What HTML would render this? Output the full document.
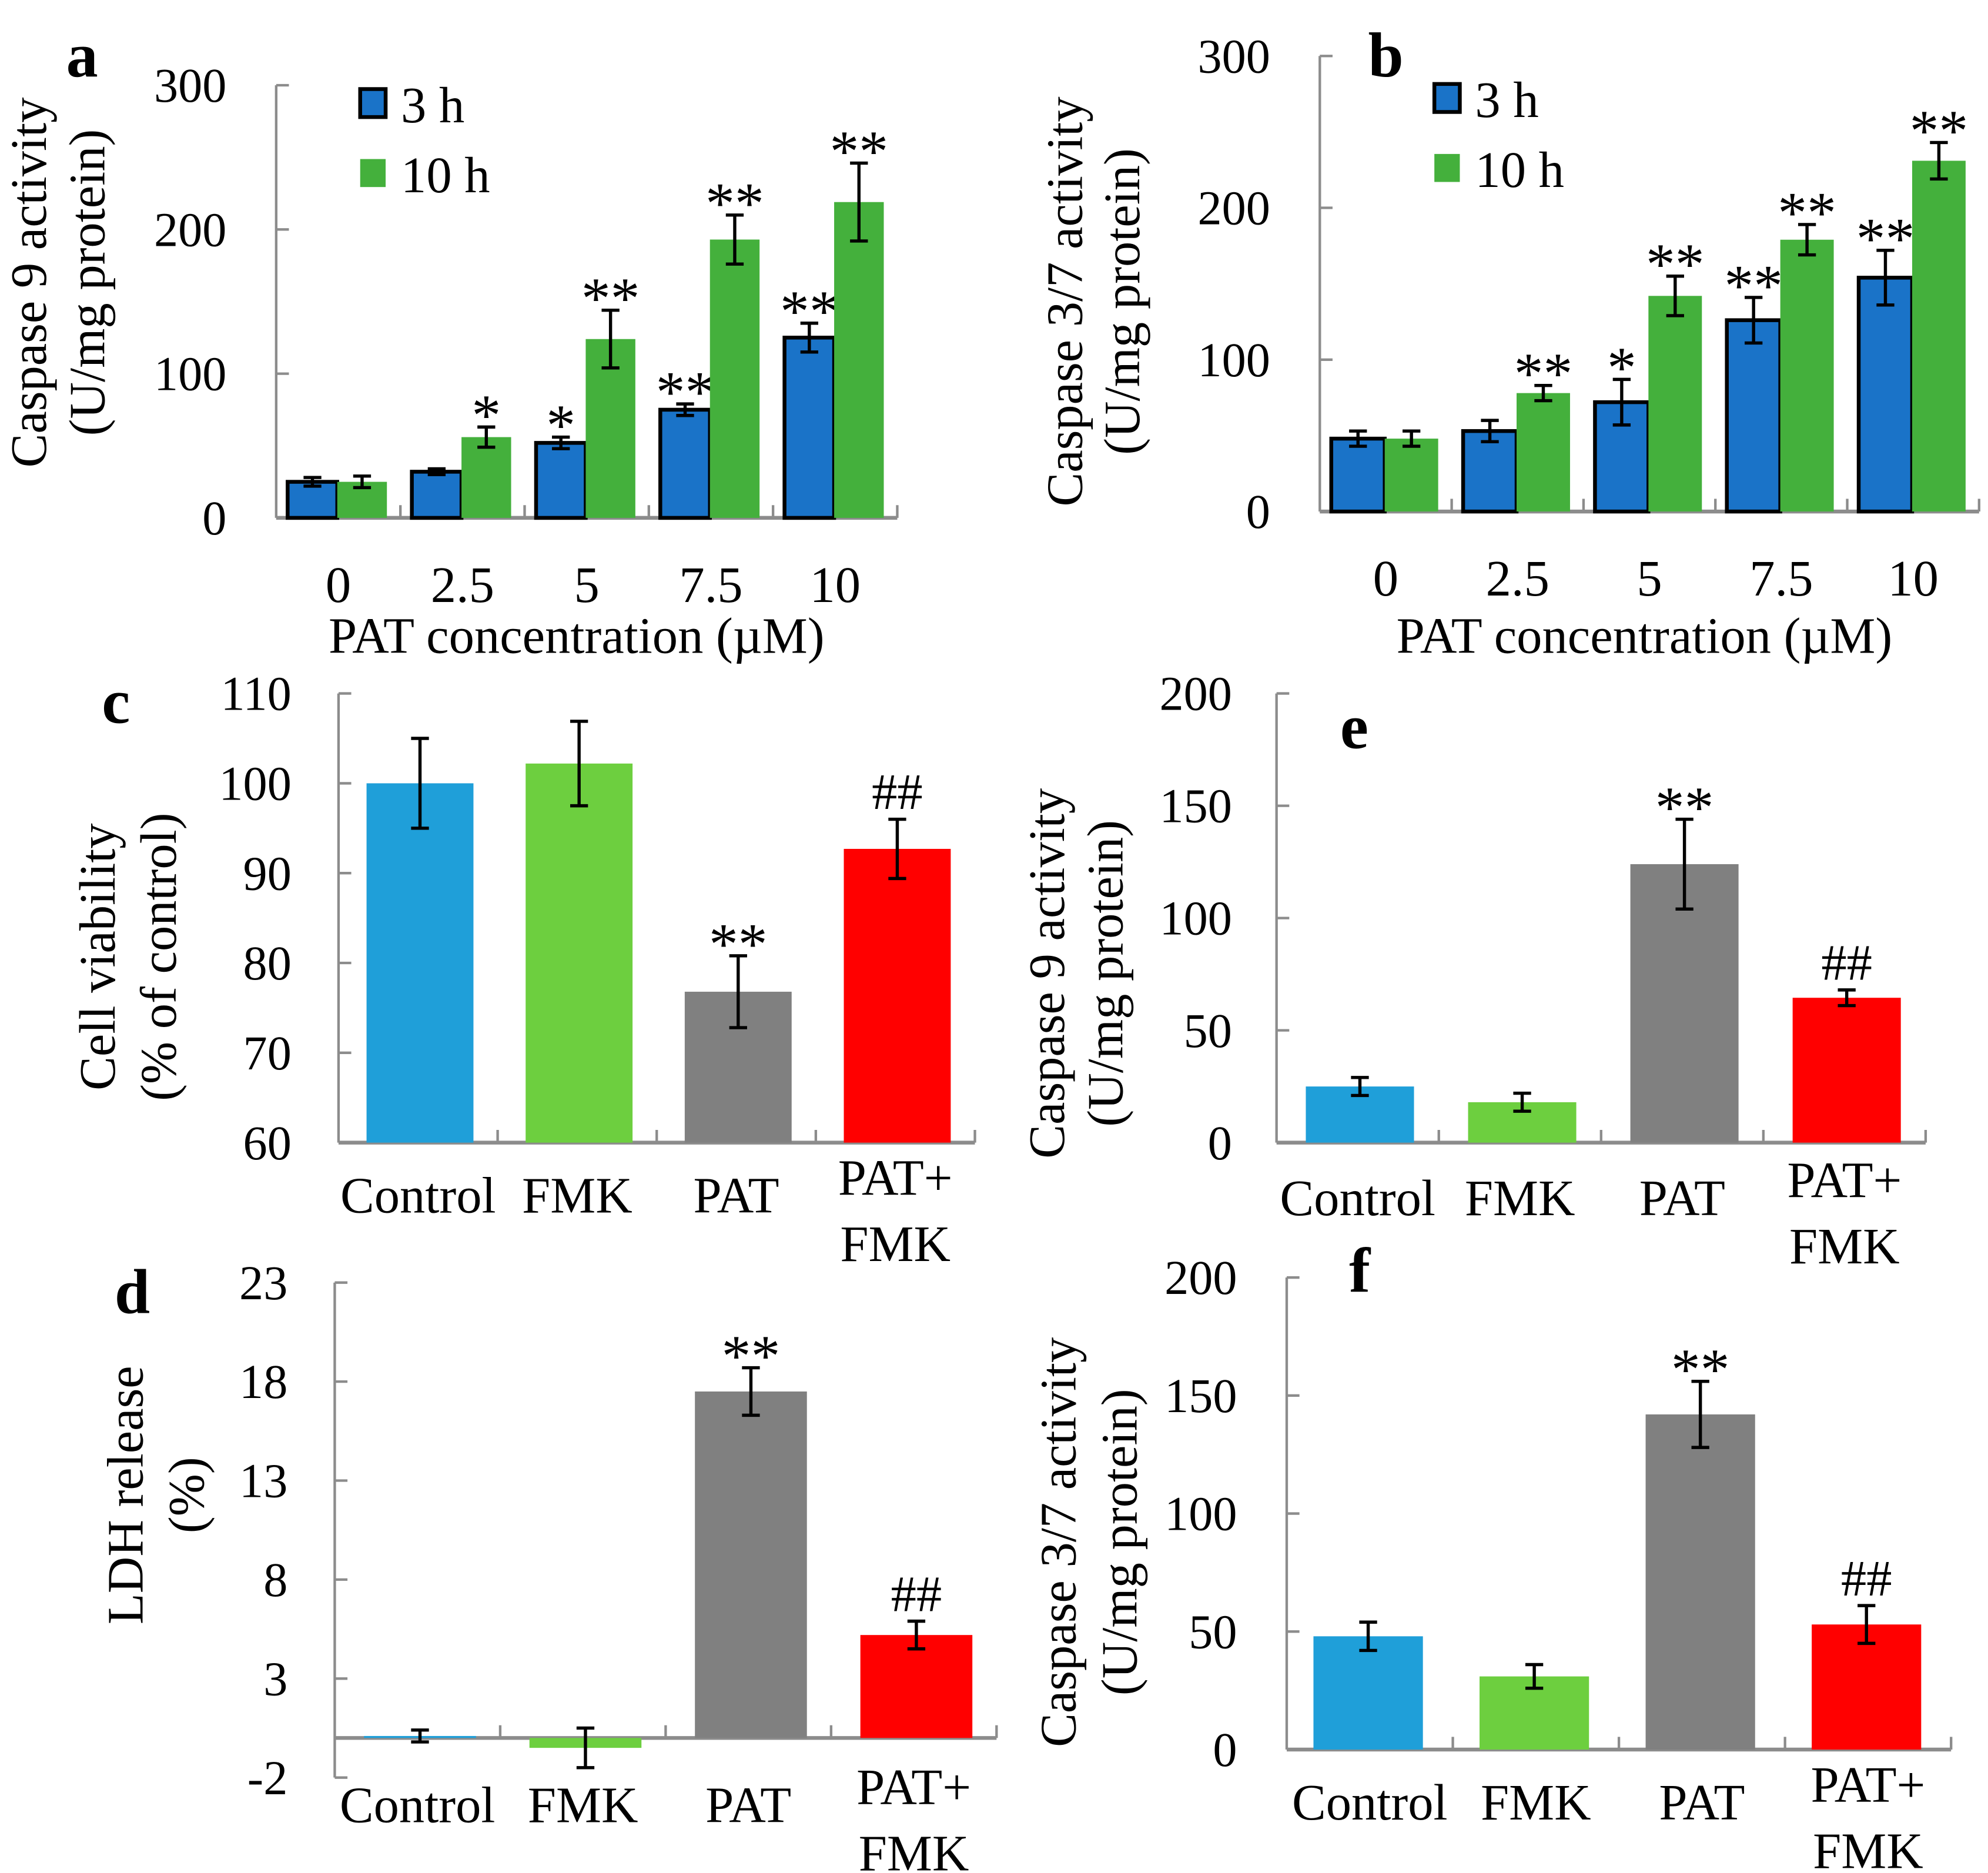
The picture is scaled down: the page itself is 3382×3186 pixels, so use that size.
<!DOCTYPE html>
<html><head><meta charset="utf-8"><style>
html,body{margin:0;padding:0;background:#fff}
svg{display:block}
text{font-family:"Liberation Serif",serif;fill:#000}
</style></head><body>
<svg id="fig" width="3382" height="3186" viewBox="0 0 1562 1472" preserveAspectRatio="none" xmlns="http://www.w3.org/2000/svg"></svg>
<script>
// ---- data ----
const concCats = ["0","2.5","5","7.5","10"];
const a3h = [25,32,52,75,125];
const a3hErr = [3,2,4,4,10];
const a10h = [25,56,124,193,219];
const a10hErr = [4,7,20,17,27];
const a3hSig = ["","","*","**","**"];
const a10hSig = ["","*","**","**","**"];
const b3h = [48,53,72,126,154];
const b3hErr = [5,7,15,15,18];
const b10h = [48,78,142,179,231];
const b10hErr = [5,5,13,10,12];
const b3hSig = ["","","*","**","**"];
const b10hSig = ["","**","**","**","**"];
const treatCats = ["Control","FMK","PAT","PAT+FMK"];
const cVals = [100,102.2,76.8,92.7];
const cErr = [5,4.7,4,3.3];
const cSig = ["","","**","##"];
const dVals = [0.1,-0.5,17.5,5.2];
const dErr = [0.3,1,1.2,0.7];
const dSig = ["","","**","##"];
const eVals = [25,18,124,64.5];
const eErr = [4,4,20,3.5];
const eSig = ["","","**","##"];
const fVals = [48,31,142,53];
const fErr = [6,5,14,8];
const fSig = ["","","**","##"];
const aTicks = [0,100,200,300];
const bTicks = [0,100,200,300];
const cTicks = [60,70,80,90,100,110];
const dTicks = [-2,3,8,13,18,23];
const eTicks = [0,50,100,150,200];
const fTicks = [0,50,100,150,200];

const NS="http://www.w3.org/2000/svg";
const svg=document.getElementById('fig');
function el(tag,attrs,parent,txt){const e=document.createElementNS(NS,tag);for(const k in attrs)e.setAttribute(k,attrs[k]);if(txt!==undefined)e.textContent=txt;(parent||svg).appendChild(e);return e;}

function panel(cfg){
  const g=el('g',{},svg);
  
  
  const y=v=>cfg.y0+(v-cfg.vmin)/(cfg.vmax-cfg.vmin)*(cfg.y1-cfg.y0);
  const n=cfg.cats.length, gw=(cfg.xr-cfg.xl)/n;
  const gray='#8c8c8c';
  const ya=el('line',{x1:cfg.xl,y1:y(cfg.vmin),x2:cfg.xl,y2:y(cfg.vmax),stroke:gray,'stroke-width':2},g);
  
  cfg.ticks.forEach(t=>{
    el('line',{x1:cfg.xl,y1:y(t),x2:cfg.xl+10,y2:y(t),stroke:gray,'stroke-width':2},g);
    const tl=el('text',{x:cfg.tickX,y:y(t)+13,'text-anchor':'end','font-size':38},g,String(t));
    
  });
  const base=y(cfg.baseV);
  const xa=el('line',{x1:cfg.xl,y1:base,x2:cfg.xr,y2:base,stroke:gray,'stroke-width':3},g);
  
  for(let i=1;i<=n;i++) el('line',{x1:cfg.xl+gw*i,y1:base,x2:cfg.xl+gw*i,y2:base-10,stroke:gray,'stroke-width':2},g);
  cfg.series.forEach((s,si)=>{
    s.vals.forEach((v,i)=>{
      const x=cfg.xl+gw*i+cfg.off+si*cfg.bw;
      const col=Array.isArray(s.color)?s.color[i]:s.color;
      const yv=y(v), yb=y(cfg.zeroV);
      const r=el('rect',{x:x,y:Math.min(yv,yb),width:cfg.bw,height:Math.abs(yb-yv),fill:col,stroke:s.stroke||'none','stroke-width':s.stroke?3:0},g);
      
      
      const cx=x+cfg.bw/2, e=s.err[i];
      const eb=el('path',{d:`M${cx-7},${y(v+e)}H${cx+7}M${cx},${y(v+e)}V${y(v-e)}M${cx-7},${y(v-e)}H${cx+7}`,stroke:'#000','stroke-width':2.5,fill:'none'},g);
      
      if(s.sig[i]){
        const isH=s.sig[i][0]==='#';
        const st=el('text',{x:cx,y:y(v+e)-8+(isH?0:14),'text-anchor':'middle','font-size':isH?40:46},g,s.sig[i]);
        
      }
    });
  });
  cfg.cats.forEach((c,i)=>{
    const cx=cfg.xl+gw*(i+0.5);
    if(c==='PAT+FMK'){
      const t1=el('text',{x:cx,y:cfg.catY-14,'text-anchor':'middle','font-size':40},g,'PAT+');
      
      const t2=el('text',{x:cx,y:cfg.catY+38,'text-anchor':'middle','font-size':40},g,'FMK');
      
    } else {
      const t=el('text',{x:cx,y:cfg.catY,'text-anchor':'middle','font-size':40},g,c);
      
    }
  });
  if(cfg.xTitle){const t=el('text',{x:cfg.xTitle[0],y:cfg.xTitle[1],'text-anchor':'middle','font-size':40},g,'PAT concentration (\u00b5M)');
    }
  cfg.yTitle.forEach((ln,k)=>{
    const [tx,ty]=[cfg.yTitleX[k],cfg.yTitleY];
    const t=el('text',{x:tx,y:ty,'text-anchor':'middle','font-size':40,transform:`rotate(-90 ${tx} ${ty})`},g,ln);
    
  });
  const L=el('text',{x:cfg.letter[0],y:cfg.letter[1],'font-size':50,'font-weight':'bold'},g,cfg.letterT);
  
  if(cfg.legend){
    cfg.legend.forEach((lg,k)=>{
      const ly=cfg.legendY+k*55;
      const r=el('rect',{x:cfg.legendX,y:ly-22,width:20,height:22,fill:lg[1],stroke:k===0?'#000':'none','stroke-width':3},g);
      
      const t=el('text',{x:cfg.legendX+32,y:ly+4,'font-size':40},g,lg[0]);
      
    });
  }
}
const BL='#1a73c8', GR='#44b03c';
const treatCols=['#1f9fd9','#6dcf3f','#808080','#ff0000'];
panel({name:'panel-a',letterT:'a',letter:[52,60],xl:217,xr:705,y0:407,y1:67,vmin:0,vmax:300,baseV:0,zeroV:0,ticks:aTicks,tickX:178,
  cats:concCats,off:9,bw:39,series:[{key:'3h',vals:a3h,err:a3hErr,sig:a3hSig,color:BL,stroke:'#000'},{key:'10h',vals:a10h,err:a10hErr,sig:a10hSig,color:GR}],
  catY:473,xTitle:[453,513],yTitle:['Caspase 9 activity','(U/mg protein)'],yTitleX:[36,82],yTitleY:222,legend:[['3 h',BL],['10 h',GR]],legendX:283,legendY:92});
panel({name:'panel-b',letterT:'b',letter:[1075,60],xl:1037,xr:1555,y0:402,y1:44,vmin:0,vmax:300,baseV:0,zeroV:0,ticks:bTicks,tickX:998,
  cats:concCats,off:9,bw:42,series:[{key:'3h',vals:b3h,err:b3hErr,sig:b3hSig,color:BL,stroke:'#000'},{key:'10h',vals:b10h,err:b10hErr,sig:b10hSig,color:GR}],
  catY:468,xTitle:[1292,513],yTitle:['Caspase 3/7 activity','(U/mg protein)'],yTitleX:[850,895],yTitleY:237,legend:[['3 h',BL],['10 h',GR]],legendX:1127,legendY:88});
panel({name:'panel-c',letterT:'c',letter:[80,568],xl:266,xr:766,y0:898,y1:545,vmin:60,vmax:110,baseV:60,zeroV:60,ticks:cTicks,tickX:229,
  cats:treatCats,off:22,bw:84,series:[{vals:cVals,err:cErr,sig:cSig,color:treatCols}],
  catY:953,yTitle:['Cell viability','(% of control)'],yTitleX:[90,138],yTitleY:752});
panel({name:'panel-d',letterT:'d',letter:[90,1032],xl:263,xr:783,y0:1397,y1:1008,vmin:-2,vmax:23,baseV:0,zeroV:0,ticks:dTicks,tickX:226,
  cats:treatCats,off:23,bw:88,series:[{vals:dVals,err:dErr,sig:dSig,color:treatCols}],
  catY:1432,yTitle:['LDH release','(%)'],yTitleX:[112,160],yTitleY:1175});
panel({name:'panel-e',letterT:'e',letter:[1053,588],xl:1003,xr:1513,y0:898,y1:545,vmin:0,vmax:200,baseV:0,zeroV:0,ticks:eTicks,tickX:968,
  cats:treatCats,off:23,bw:85,series:[{vals:eVals,err:eErr,sig:eSig,color:treatCols}],
  catY:955,yTitle:['Caspase 9 activity','(U/mg protein)'],yTitleX:[836,882],yTitleY:765});
panel({name:'panel-f',letterT:'f',letter:[1060,1015],xl:1011,xr:1533,y0:1375,y1:1004,vmin:0,vmax:200,baseV:0,zeroV:0,ticks:fTicks,tickX:972,
  cats:treatCats,off:21,bw:86,series:[{vals:fVals,err:fErr,sig:fSig,color:treatCols}],
  catY:1430,yTitle:['Caspase 3/7 activity','(U/mg protein)'],yTitleX:[845,893],yTitleY:1212});
</script>
</body></html>
